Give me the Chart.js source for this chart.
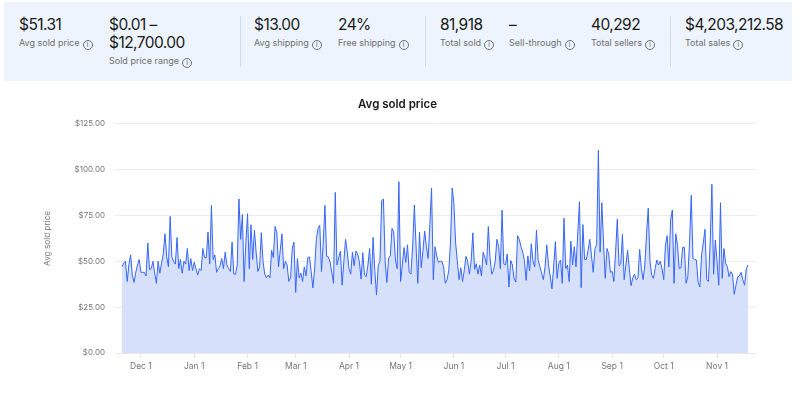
<!DOCTYPE html>
<html>
<head>
<meta charset="utf-8">
<script src="https://cdn.jsdelivr.net/npm/chart.js@4"></script>
<style>
html,body{margin:0;padding:0;background:#fff;width:800px;height:394px;overflow:hidden;font-family:Inter,"Open Sans",sans-serif}
#panel{position:absolute;left:4px;top:2px;width:788px;height:79px;background:#edf4fe}
.v{position:absolute;font-size:15.5px;line-height:18px;color:#191919;white-space:nowrap;letter-spacing:-.55px}
.l{position:absolute;font-size:9px;line-height:12px;color:#707070;white-space:nowrap}
.i{display:inline-block;width:8px;height:8px;border:1px solid #707070;border-radius:50%;font-size:6.5px;line-height:8px;text-align:center;margin-left:3px;vertical-align:-1px;color:#555}
.d{position:absolute;width:1px;top:16px;height:51px;background:#d5dbe3}
#wrap{position:absolute;left:0;top:83px;width:800px;height:311px}
</style>
</head>
<body>
<div id="panel"></div>
<div id="stats"></div>
<div class="d" style="left:240px"></div>
<div class="d" style="left:425px"></div>
<div class="d" style="left:670px"></div>
<div id="wrap"><canvas id="c" width="800" height="311"></canvas></div>
<script>
const statValues = ["$51.31","$0.01 –\n$12,700.00","$13.00","24%","81,918","–","40,292","$4,203,212.58"];
const statLabels = ["Avg sold price","Sold price range","Avg shipping","Free shipping","Total sold","Sell-through","Total sellers","Total sales"];
const statLefts = [19,109,254,338,440,509,591,685];
const tickDays = [11,42,73,101,132,162,193,223,254,285,315,346];
const tickLabels = ["Dec 1","Jan 1","Feb 1","Mar 1","Apr 1","May 1","Jun 1","Jul 1","Aug 1","Sep 1","Oct 1","Nov 1"];
const avgSoldPrice = [
47,49,50,39,48,53.5,42.5,38.5,44,48,
51,44,44,44,42,60,45.5,46,50,43.5,
38,50,43.5,49,54,65,52.5,47,74.5,52.5,
50,48.5,63,46,51,43.5,50,48.5,57,45,
51.5,45,49.5,46,42.5,46,45,57,52,52,
66,48.5,80.5,51,53.5,44,46,47.5,51.5,46,
55,48,46,44.5,60.5,43,43,48,84,62,
75.6,39,60,76,46,70,51,67,55,44.5,
47,65.6,50,43,41,42.5,41,56,52,69,
66,47,56,65,46,50,48,39,41,57,
60.5,33,51.5,41,43.6,39,47,42,52,52.4,
44.5,35.5,46,62,68,69.6,44.5,60,80.5,52.7,
52.4,49.6,44,38,87.6,48,52,55.6,37,50,
62,55,46,43,55,47.6,55.6,54,50,40.4,
54.7,42.5,41.6,48,57,37.5,63,45,31.6,48,
50,83,84,50,38.5,51.6,53,68,66,50.7,
46,93.5,39,48,57.5,49.5,59,44,43,58,
80.7,58,38,66,46.5,56,66.5,58,51.6,70,
90,40,58,53,49.5,50,50,47,38,40,
45,60,90,81.5,60,50,40,46.5,39,45,
52.7,50,43,50,65.5,45.6,48.7,43,48,42,
55,52,48,69,52,43,45,50,62,58,
46,78,48.7,48,54,36,50.5,48,40.5,38.7,
64,62,58,55,50.5,39.6,53,44.7,59.6,50,
47,67,50.5,47,43.5,40,47,59,48,42,
35,47,60.7,40.7,49,50.7,38,73.5,46,48,
39,61,48,58,47,65,82.5,35.6,70,51,
51,56,62,53,44,57,59,110.5,55,82,
60,40.7,57,54,44,44.5,39,55,73,47.6,
48.5,64.7,40,48,56,46,36.7,41,43,40,
41,56.5,46,40,48,65,79,50,42.5,40.7,
46,50.7,48,50,46,40,59,64,47,72.5,
78,38,65,59,46,46.5,57.6,57.6,38,41.6,
60,86,51.6,51,50.7,38.5,36,53.5,60,67.5,
40,39,60,92,43,61.6,50,37,82,40.7,
57,49,47,41.6,44.4,43,32,37,41.6,42,
44,40,37,46,48];

const stats = document.getElementById('stats');
statValues.forEach((t,k)=>{
  const lines = t.split("\n");
  lines.forEach((s,j)=>{
    const v = document.createElement('div');
    v.className='v'; v.textContent=s;
    v.style.left=statLefts[k]+'px'; v.style.top=(16+j*18)+'px';
    stats.appendChild(v);
  });
  const l = document.createElement('div');
  l.className='l'; l.textContent=statLabels[k];
  l.style.left=statLefts[k]+'px'; l.style.top=(37+(lines.length-1)*18)+'px';
  const ic=document.createElement('span'); ic.className='i'; ic.textContent='i';
  l.appendChild(ic);
  stats.appendChild(l);
});

const centerTitle = {id:'centerTitle',beforeDraw(chart){ chart.titleBlock.left=0; chart.titleBlock.right=795; }};

new Chart(document.getElementById('c'),{
  type:'line',
  plugins:[centerTitle],
  data:{datasets:[{
    data:avgSoldPrice.map((y,x)=>({x,y})),
    borderColor:'#3665f3',borderWidth:1,pointRadius:0,tension:0,
    fill:'origin',backgroundColor:'#d6e0fb'
  }]},
  options:{
    responsive:false,animation:false,
    layout:{padding:{left:0,right:44,top:0,bottom:0}},
    plugins:{
      legend:{display:false},tooltip:{enabled:false},
      title:{display:true,text:'Avg sold price',color:'#191919',
        font:{family:'Inter',size:11.5,weight:'600',lineHeight:1.2},
        padding:{top:15,bottom:12}}
    },
    scales:{
      x:{type:'linear',min:-4.07,max:368.65,
        afterBuildTicks:s=>{s.ticks=tickDays.map(value=>({value}));},
        afterFit:s=>{s.height=41;},
        grid:{drawOnChartArea:false,drawTicks:true,tickLength:5,color:'#e6e6e6'},
        border:{color:'#e6e6e6'},
        ticks:{autoSkip:false,maxRotation:0,padding:3,color:'#767676',
          font:{family:'Inter',size:8.5},
          callback:(v,i)=>tickLabels[i]}
      },
      y:{min:0,max:125,
        afterFit:s=>{s.width=115;},
        grid:{color:'#ececec',tickLength:0},
        border:{display:false},
        ticks:{stepSize:25,padding:10,color:'#767676',
          font:{family:'Inter',size:8},
          callback:v=>'$'+v.toFixed(2)},
        title:{display:true,text:'Avg sold price',color:'#767676',
          font:{family:'Inter',size:8.2},padding:{top:43,bottom:0}}
      }
    }
  }
});
</script>
</body>
</html>
